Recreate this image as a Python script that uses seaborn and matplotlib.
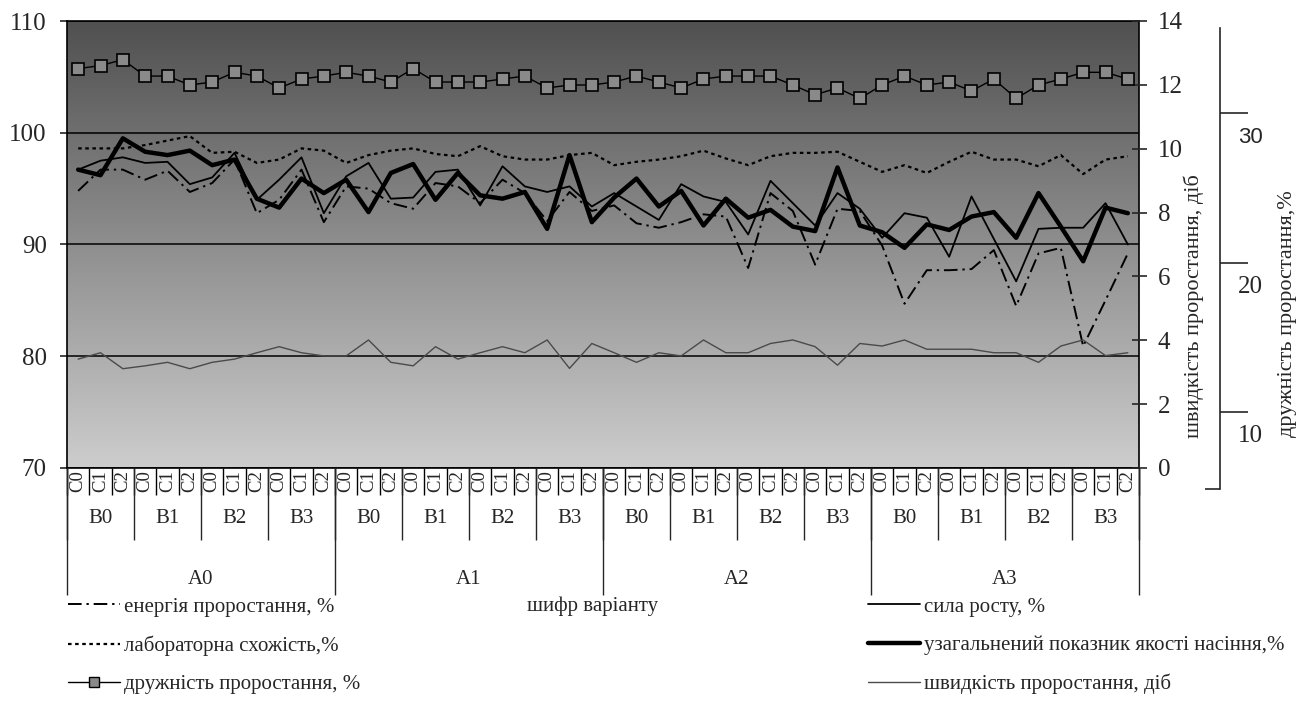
import matplotlib
matplotlib.use("Agg")
import matplotlib.pyplot as plt
import matplotlib.transforms as mtransforms
from matplotlib.lines import Line2D
from matplotlib.ticker import FixedLocator, FixedFormatter, NullFormatter
import numpy as np
import pandas as pd
import seaborn as sns

sns.set_style("ticks")
plt.rcParams['font.family'] = ['Liberation Serif', 'DejaVu Serif']

# categories
A_LEVELS = ["A0", "A1", "A2", "A3"]
B_LEVELS = ["B0", "B1", "B2", "B3"]
C_LEVELS = ["C0", "C1", "C2"]

# енергія проростання, %
energy = [94.8, 96.7, 96.7, 95.8, 96.6, 94.7, 95.5, 97.6, 92.8, 94.0, 96.7, 92.0,
          95.2, 95.0, 93.7, 93.2, 95.5, 95.2, 93.7, 95.8, 94.6, 92.1, 94.7, 93.0,
          93.5, 91.9, 91.5, 92.0, 92.7, 92.5, 87.9, 94.6, 93.0, 88.2, 93.2, 93.0,
          89.9, 84.7, 87.7, 87.7, 87.8, 89.5, 84.5, 89.2, 89.7, 80.9, 85.0, 89.2]
# лабораторна схожість, %
lab = [98.6, 98.6, 98.6, 98.9, 99.3, 99.7, 98.2, 98.3, 97.3, 97.6, 98.6, 98.4,
       97.3, 98.0, 98.4, 98.6, 98.1, 97.9, 98.8, 97.9, 97.6, 97.6, 98.0, 98.2,
       97.1, 97.4, 97.6, 97.9, 98.4, 97.7, 97.1, 97.9, 98.2, 98.2, 98.3, 97.4,
       96.5, 97.1, 96.4, 97.4, 98.3, 97.6, 97.6, 97.0, 98.0, 96.3, 97.6, 97.9]
# сила росту, %
vigor = [96.7, 97.5, 97.8, 97.3, 97.4, 95.4, 96.0, 98.2, 94.0, 95.8, 97.8, 92.8,
         96.1, 97.3, 94.1, 94.2, 96.5, 96.7, 93.5, 97.0, 95.2, 94.7, 95.2, 93.4,
         94.6, 93.4, 92.2, 95.4, 94.3, 93.8, 90.9, 95.7, 93.7, 91.7, 94.6, 93.2,
         90.6, 92.8, 92.4, 88.9, 94.3, 90.5, 86.7, 91.4, 91.5, 91.5, 93.7, 90.0]
# узагальнений показник якості насіння, %
quality = [96.7, 96.2, 99.5, 98.3, 98.0, 98.4, 97.1, 97.6, 94.1, 93.3, 95.9, 94.6,
           95.8, 92.9, 96.4, 97.2, 94.0, 96.4, 94.4, 94.1, 94.7, 91.4, 98.0, 92.0,
           94.2, 95.9, 93.4, 94.8, 91.7, 94.1, 92.4, 93.1, 91.6, 91.2, 96.9, 91.7,
           91.1, 89.7, 91.8, 91.3, 92.5, 92.9, 90.6, 94.6, 91.6, 88.5, 93.3, 92.8]
# швидкість проростання, діб (right axis)
speed = [3.41, 3.61, 3.11, 3.20, 3.31, 3.11, 3.31, 3.41, 3.61, 3.80, 3.61, 3.51,
         3.51, 4.01, 3.31, 3.20, 3.80, 3.41, 3.61, 3.80, 3.61, 4.01, 3.12, 3.90,
         3.61, 3.31, 3.61, 3.51, 4.01, 3.61, 3.61, 3.90, 4.01, 3.80, 3.22, 3.90,
         3.82, 4.01, 3.72, 3.72, 3.72, 3.61, 3.61, 3.31, 3.82, 4.01, 3.52, 3.61]
# дружність проростання, % (third axis)
friendly = [33.0, 33.2, 33.6, 32.5, 32.5, 31.9, 32.1, 32.75, 32.5, 31.7, 32.3, 32.5,
            32.75, 32.5, 32.1, 33.0, 32.1, 32.1, 32.1, 32.3, 32.5, 31.7, 31.9, 31.9,
            32.1, 32.5, 32.1, 31.7, 32.3, 32.5, 32.5, 32.5, 31.9, 31.25, 31.7, 31.0,
            31.9, 32.5, 31.9, 32.1, 31.5, 32.3, 31.0, 31.9, 32.3, 32.75, 32.75, 32.3]

LEFT_TICKS = [70, 80, 90, 100, 110]
RIGHT_TICKS = [0, 2, 4, 6, 8, 10, 12, 14]
THIRD_TICKS = [10, 20, 30]

n = len(quality)
df = pd.DataFrame({"pos": np.arange(n), "energy": energy, "lab": lab, "vigor": vigor,
                   "quality": quality, "speed": speed, "friendly": friendly})

W, H = 1310, 702
PX = 0.72  # points per pixel at dpi 100

fig = plt.figure(figsize=(W / 100, H / 100), dpi=100)
ax = fig.add_axes([67 / W, 1 - 468 / H, 1072 / W, 447 / H])

# gradient background of the plot area
shade = np.linspace(80, 205, 256) / 255
grad = np.repeat(np.repeat(shade[:, None, None], 2, axis=1), 3, axis=2)
ax.imshow(grad, extent=(0, 1, 0, 1), transform=ax.transAxes, aspect='auto', zorder=0,
          interpolation='bilinear')

DASHDOT = (0, (7, 2.5, 1.2, 2.5))
DOTTED = (0, (1.6, 1.6))

sns.lineplot(data=df, x="pos", y="energy", ax=ax, color="black", linewidth=1.4, linestyle=DASHDOT)
sns.lineplot(data=df, x="pos", y="lab", ax=ax, color="black", linewidth=1.6, linestyle=DOTTED)
sns.lineplot(data=df, x="pos", y="vigor", ax=ax, color="black", linewidth=1.3)
sns.lineplot(data=df, x="pos", y="quality", ax=ax, color="black", linewidth=3.2)

ax.set_xlim(-0.5, n - 0.5)
ax.set_ylim(70, 110)
ax.set_yticks(LEFT_TICKS)
ax.set_axisbelow(True)
ax.yaxis.grid(True, color="black", linewidth=1.1)
ax.xaxis.grid(False)
ax.set_ylabel("")
for s in ax.spines.values():
    s.set_linewidth(1.2)
    s.set_color("black")
ax.tick_params(axis="y", direction="out", length=7.5 * PX, width=1.2, labelsize=18, pad=12.8 * PX)

# level C labels + separators
ax.set_xticks(np.arange(n))
ax.set_xticklabels(C_LEVELS * (n // 3), rotation=90, fontsize=13.5)
ax.tick_params(axis="x", which="major", length=0, pad=2 * PX)
ax.xaxis.set_minor_locator(FixedLocator(np.arange(-0.5, n, 1)))
ax.tick_params(axis="x", which="minor", direction="out", length=27 * PX, width=1.0, color="black")
ax.set_xlabel("шифр варіанту", fontsize=15)
ax.xaxis.set_label_coords((593 - 67) / 1072, (468 - 596) / 447)

# right axis: швидкість
ax2 = ax.twinx()
sns.lineplot(data=df, x="pos", y="speed", ax=ax2, color="#4a4a4a", linewidth=1.0)
ax2.set_ylim(0, 14)
ax2.set_yticks(RIGHT_TICKS)
ax2.tick_params(axis="y", direction="inout", length=15 * PX, width=1.2, labelsize=18, pad=11.5 * PX)
for s in ax2.spines.values():
    s.set_visible(False)
ax2.set_ylabel("швидкість проростання, діб", fontsize=16)
ax2.yaxis.set_label_coords((1183 - 67) / 1072, (468 - 306) / 447)

# level B
axB = ax.twiny()
axB.set_xlim(ax.get_xlim())
axB.xaxis.set_ticks_position("bottom")
for s in axB.spines.values():
    s.set_visible(False)
axB.set_xticks(np.arange(-0.5, n, 3))
axB.xaxis.set_major_formatter(NullFormatter())
axB.xaxis.set_minor_locator(FixedLocator(np.arange(1, n, 3)))
axB.xaxis.set_minor_formatter(FixedFormatter(B_LEVELS * 4))
axB.tick_params(axis="x", which="major", direction="out", length=72 * PX, width=1.0)
axB.tick_params(axis="x", which="minor", length=0, labelsize=15, pad=41 * PX)

# level A
axA = ax.twiny()
axA.set_xlim(ax.get_xlim())
axA.xaxis.set_ticks_position("bottom")
for s in axA.spines.values():
    s.set_visible(False)
axA.set_xticks(np.arange(-0.5, n, 12))
axA.xaxis.set_major_formatter(NullFormatter())
axA.xaxis.set_minor_locator(FixedLocator(np.arange(5.5, n, 12)))
axA.xaxis.set_minor_formatter(FixedFormatter(A_LEVELS))
axA.tick_params(axis="x", which="major", direction="out", length=127 * PX, width=1.0)
axA.tick_params(axis="x", which="minor", length=0, labelsize=15, pad=102 * PX)

# third axis: дружність
ax3 = fig.add_axes([67 / W, 1 - 489.3 / H, 1072 / W, 461 / H])
ax3.patch.set_visible(False)
sns.lineplot(data=df, x="pos", y="friendly", ax=ax3, color="black", linewidth=1.0,
             marker="s", markersize=8.5, markerfacecolor="#8a8a8a", markeredgecolor="black",
             markeredgewidth=1.2)
ax3.set_xlim(-0.5, n - 0.5)
ax3.set_ylim(4.81, 35.70)
ax3.xaxis.set_visible(False)
for k in ["top", "bottom", "left"]:
    ax3.spines[k].set_visible(False)
ax3.spines["right"].set_position(("outward", 81 * PX))
ax3.spines["right"].set_linewidth(1.2)
ax3.yaxis.tick_right()
ax3.set_yticks(THIRD_TICKS)
ax3.yaxis.set_major_formatter(NullFormatter())
ax3.yaxis.set_minor_locator(FixedLocator([4.82]))
ax3.tick_params(axis="y", which="major", direction="out", length=28 * PX, width=1.2)
ax3.tick_params(axis="y", which="minor", direction="in", length=15 * PX, width=1.2)
ax3.yaxis.set_label_position("right")
ax3.set_ylabel("дружність проростання,%", fontsize=16)
ax3.yaxis.set_label_coords((1278 - 67) / 1072, (489.3 - 314) / 461)
lbl_trans = ax3.get_yaxis_transform() + mtransforms.ScaledTranslation(0, -0.24, fig.dpi_scale_trans)
for v in THIRD_TICKS:
    fam = ["Liberation Sans"] if v == 30 else ["Liberation Serif"]
    ax3.text((1250 - 67) / 1072, v, str(v), transform=lbl_trans, ha="center", va="center",
             fontsize=16 if v == 30 else 18, family=fam)

# legends
def h(**kw):
    return Line2D([0], [0], color="black", **kw)

left_handles = [h(linewidth=1.4, linestyle=DASHDOT),
                h(linewidth=1.6, linestyle=DOTTED),
                h(linewidth=1.0, marker="s", markersize=7, markerfacecolor="#8a8a8a", markeredgecolor="black")]
left_labels = ["енергія проростання, %", "лабораторна схожість,%", "дружність проростання, %"]
right_handles = [h(linewidth=1.3), h(linewidth=3.2), Line2D([0], [0], color="#4a4a4a", linewidth=1.0)]
right_labels = ["сила росту, %", "узагальнений показник якості насіння,%", "швидкість проростання, діб"]

leg_kw = dict(loc="upper left", frameon=False, fontsize=15, borderpad=0, borderaxespad=0,
              handlelength=2.5, handletextpad=0.2, labelspacing=0.9)
fig.legend(left_handles, left_labels, bbox_to_anchor=(68 / W, 1 - 597 / H), **leg_kw)
fig.legend(right_handles, right_labels, bbox_to_anchor=(868 / W, 1 - 597 / H), **leg_kw)

fig.savefig("out.png", dpi=100)
